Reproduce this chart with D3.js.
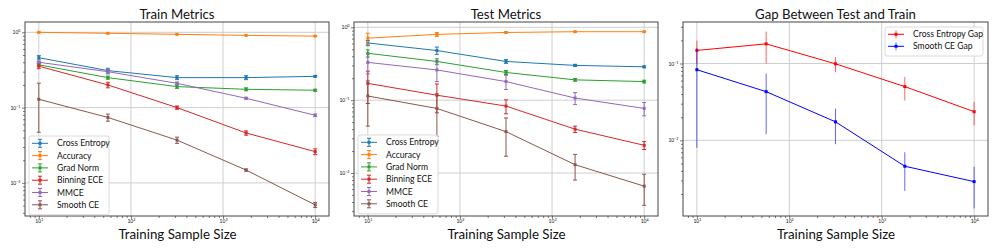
<!DOCTYPE html>
<html>
<head>
<meta charset="utf-8">
<script src="https://cdn.jsdelivr.net/npm/d3@7"></script>
<style>
  body { margin: 0; background: #fff; }
  svg { display: block; }
  text { font-family: Lato, "DejaVu Sans", sans-serif; fill: #111; }
</style>
</head>
<body>
<svg id="vis" width="997" height="249"></svg>
<script>
// training set sizes (log spaced)
const sampleSizes = [10, 56.2, 316.2, 1778, 10000]
const metricNames = ["Cross Entropy", "Accuracy", "Grad Norm", "Binning ECE", "MMCE", "Smooth CE"]
const metricColors = ["#1f77b4", "#ff7f0e", "#2ca02c", "#d62728", "#9467bd", "#8c564b"]

// train metrics (mean, std)
const trainCrossEntropy = [0.46, 0.31, 0.25, 0.25, 0.26]
const trainCrossEntropyErr = [0.03, 0.023, 0.015, 0.015, 0.005]
const trainAccuracy = [1.0, 0.97, 0.94, 0.91, 0.89]
const trainAccuracyErr = [0.01, 0.01, 0.008, 0.008, 0.005]
const trainGradNorm = [0.37, 0.25, 0.19, 0.175, 0.17]
const trainGradNormErr = [0.012, 0.012, 0.01, 0.008, 0.005]
const trainBinningECE = [0.355, 0.20, 0.10, 0.046, 0.026]
const trainBinningECEErr = [0.027, 0.017, 0.005, 0.003, 0.0023]
const trainMMCE = [0.40, 0.30, 0.21, 0.133, 0.079]
const trainMMCEErr = [0.01, 0.02, 0.008, 0.004, 0.003]
const trainSmoothCE = [0.129, 0.074, 0.037, 0.0148, 0.0051]
const trainSmoothCEErr = [0.082, 0.008, 0.0035, 0.0005, 0.0004]

// test metrics
const testCrossEntropy = [0.61, 0.48, 0.34, 0.30, 0.287]
const testCrossEntropyErr = [0.05, 0.055, 0.02, 0.01, 0.008]
const testAccuracy = [0.71, 0.80, 0.85, 0.87, 0.87]
const testAccuracyErr = [0.12, 0.05, 0.02, 0.01, 0.01]
const testGradNorm = [0.44, 0.34, 0.24, 0.19, 0.18]
const testGradNormErr = [0.05, 0.03, 0.015, 0.008, 0.008]
const testBinningECE = [0.17, 0.117, 0.083, 0.040, 0.024]
const testBinningECEErr = [0.08, 0.05, 0.018, 0.004, 0.003]
const testMMCE = [0.33, 0.26, 0.18, 0.107, 0.077]
const testMMCEErr = [0.1, 0.08, 0.04, 0.02, 0.016]
const testSmoothCE = [0.114, 0.077, 0.037, 0.013, 0.0066]
const testSmoothCEErr = [0.07, 0.045, 0.02, 0.005, 0.003]

// gap between test and train
const gapNames = ["Cross Entropy Gap", "Smooth CE Gap"]
const gapColors = ["#ff0000", "#0000ff"]
const gapCrossEntropy = [0.148, 0.18, 0.099, 0.050, 0.0236]
const gapCrossEntropyErr = [0.05, 0.08, 0.022, 0.017, 0.008]
const gapSmoothCE = [0.083, 0.043, 0.0174, 0.0046, 0.0029]
const gapSmoothCEErr = [0.075, 0.031, 0.0085, 0.0024, 0.0016]

const xTicks = [10, 100, 1000, 10000]

function makeSeries(names, colors, means, errs) {
  return names.map((name, i) => ({
    name: name,
    color: colors[i],
    points: sampleSizes.map((n, j) => ({ n: n, v: means[i][j], e: errs[i][j] }))
  }))
}

const trainSeries = makeSeries(metricNames, metricColors,
  [trainCrossEntropy, trainAccuracy, trainGradNorm, trainBinningECE, trainMMCE, trainSmoothCE],
  [trainCrossEntropyErr, trainAccuracyErr, trainGradNormErr, trainBinningECEErr, trainMMCEErr, trainSmoothCEErr])
const testSeries = makeSeries(metricNames, metricColors,
  [testCrossEntropy, testAccuracy, testGradNorm, testBinningECE, testMMCE, testSmoothCE],
  [testCrossEntropyErr, testAccuracyErr, testGradNormErr, testBinningECEErr, testMMCEErr, testSmoothCEErr])
const gapSeries = makeSeries(gapNames, gapColors,
  [gapCrossEntropy, gapSmoothCE], [gapCrossEntropyErr, gapSmoothCEErr])

const svg = d3.select("#vis")
const top_ = 22, bottom_ = 216

const panels = [
  { title: "Train Metrics", left: 25, right: 329, yLog: [-2.44, 0.137], series: trainSeries,
    caps: true, legend: { x: 29, y: 136, w: 80, row: 12.3 } },
  { title: "Test Metrics", left: 354, right: 658, yLog: [-2.59, 0.073], series: testSeries,
    caps: true, legend: { x: 358, y: 135, w: 80, row: 12.3 } },
  { title: "Gap Between Test and Train", left: 683, right: 988, yLog: [-2.985, -0.46], series: gapSeries,
    caps: false, legend: { x: 885, y: 27, w: 98, row: 12 } }
]

function superscriptLabel(sel) {
  sel.each(function (d) {
    const p = Math.round(Math.log10(d))
    const t = d3.select(this).text("10")
    t.append("tspan").attr("dy", -2).attr("font-size", 3.7).text(p < 0 ? "\u2212" + (-p) : p)
  })
}

function minorTicks(domain) {
  const out = []
  const lo = Math.floor(Math.log10(domain[0])), hi = Math.ceil(Math.log10(domain[1]))
  for (let k = lo; k <= hi; k++) {
    for (let m = 2; m <= 9; m++) {
      const v = m * Math.pow(10, k)
      if (v >= domain[0] && v <= domain[1]) out.push(v)
    }
  }
  return out
}

function majorTicks(domain) {
  const out = []
  for (let k = Math.ceil(Math.log10(domain[0])); k <= Math.floor(Math.log10(domain[1])); k++) out.push(Math.pow(10, k))
  return out
}

panels.forEach(p => {
  const g = svg.append("g")
  const x = d3.scaleLog().domain([Math.pow(10, 0.85), Math.pow(10, 4.15)]).range([p.left, p.right])
  const y = d3.scaleLog().domain([Math.pow(10, p.yLog[0]), Math.pow(10, p.yLog[1])]).range([bottom_, top_])
  const yMajor = majorTicks(y.domain())

  // grid
  g.append("g").selectAll("line").data(xTicks).join("line")
    .attr("x1", d => x(d)).attr("x2", d => x(d)).attr("y1", top_).attr("y2", bottom_)
    .attr("stroke", "#cfcfcf").attr("stroke-width", 1)
  g.append("g").selectAll("line").data(yMajor).join("line")
    .attr("y1", d => y(d)).attr("y2", d => y(d)).attr("x1", p.left).attr("x2", p.right)
    .attr("stroke", "#cfcfcf").attr("stroke-width", 1)

  const clipId = "clip" + p.left
  g.append("clipPath").attr("id", clipId).append("rect")
    .attr("x", p.left).attr("y", top_).attr("width", p.right - p.left).attr("height", bottom_ - top_)

  const plot = g.append("g").attr("clip-path", `url(#${clipId})`)
  const line = d3.line().x(d => x(d.n)).y(d => y(d.v))
  const yMin = y.domain()[0]

  p.series.forEach(s => {
    const sg = plot.append("g")
    // error bars
    const eb = sg.selectAll("g.eb").data(s.points).join("g")
      .attr("stroke", s.color).attr("stroke-width", 1)
      .attr("opacity", p.caps ? 1 : 0.6)
    eb.append("line")
      .attr("x1", d => x(d.n)).attr("x2", d => x(d.n))
      .attr("y1", d => y(d.v + d.e)).attr("y2", d => y(Math.max(d.v - d.e, yMin)))
    if (p.caps) {
      eb.append("line").attr("x1", d => x(d.n) - 2).attr("x2", d => x(d.n) + 2)
        .attr("y1", d => y(d.v + d.e)).attr("y2", d => y(d.v + d.e))
      eb.append("line").attr("x1", d => x(d.n) - 2).attr("x2", d => x(d.n) + 2)
        .attr("y1", d => y(Math.max(d.v - d.e, yMin))).attr("y2", d => y(Math.max(d.v - d.e, yMin)))
    }
    sg.append("path").datum(s.points).attr("d", line)
      .attr("fill", "none").attr("stroke", s.color).attr("stroke-width", 1)
    sg.selectAll("rect").data(s.points).join("rect")
      .attr("x", d => x(d.n) - 1.5).attr("y", d => y(d.v) - 1.5)
      .attr("width", 3).attr("height", 3).attr("fill", s.color)
  })

  // spines
  g.append("rect").attr("x", p.left).attr("y", top_)
    .attr("width", p.right - p.left).attr("height", bottom_ - top_)
    .attr("fill", "none").attr("stroke", "#444").attr("stroke-width", 1)

  // axes
  const xAxis = g.append("g").attr("transform", `translate(0,${bottom_})`)
    .call(d3.axisBottom(x).tickValues(xTicks).tickSize(3).tickPadding(0.5))
  const xMinor = g.append("g").attr("transform", `translate(0,${bottom_})`)
    .call(d3.axisBottom(x).tickValues(minorTicks(x.domain())).tickSize(2).tickFormat(""))
  const yAxis = g.append("g").attr("transform", `translate(${p.left},0)`)
    .call(d3.axisLeft(y).tickValues(yMajor).tickSize(3).tickPadding(1.5))
  const yMinor = g.append("g").attr("transform", `translate(${p.left},0)`)
    .call(d3.axisLeft(y).tickValues(minorTicks(y.domain())).tickSize(2).tickFormat(""))
  ;[xAxis, xMinor, yAxis, yMinor].forEach(a => {
    a.select(".domain").remove()
    a.selectAll(".tick line").attr("stroke", "#444").attr("stroke-width", 0.7)
  })
  xAxis.selectAll(".tick text").attr("font-size", 5).attr("fill", "#222").call(superscriptLabel)
  yAxis.selectAll(".tick text").attr("font-size", 5).attr("fill", "#222").call(superscriptLabel)

  // title and x label
  g.append("text").attr("x", (p.left + p.right) / 2).attr("y", 19)
    .attr("text-anchor", "middle").attr("font-size", 13.2).text(p.title)
  g.append("text").attr("x", (p.left + p.right) / 2 + 0.5).attr("y", 238.5)
    .attr("text-anchor", "middle").attr("font-size", 13.3).text("Training Sample Size")

  // legend
  const L = p.legend
  const lg = g.append("g").attr("transform", `translate(${L.x},${L.y})`)
  lg.append("rect").attr("width", L.w).attr("height", p.series.length * L.row + 5)
    .attr("rx", 2).attr("fill", "#fff").attr("fill-opacity", 0.85)
    .attr("stroke", "#d0d0d0").attr("stroke-width", 0.8)
  p.series.forEach((s, i) => {
    const cy = 7.3 + i * L.row
    const row = lg.append("g").attr("stroke", s.color).attr("stroke-width", 1)
    row.append("line").attr("x1", 3).attr("x2", 19).attr("y1", cy).attr("y2", cy)
    row.append("line").attr("x1", 11).attr("x2", 11).attr("y1", cy - 4).attr("y2", cy + 4)
      .attr("opacity", p.caps ? 1 : 0.6)
    if (p.caps) {
      row.append("line").attr("x1", 9).attr("x2", 13).attr("y1", cy - 4).attr("y2", cy - 4)
      row.append("line").attr("x1", 9).attr("x2", 13).attr("y1", cy + 4).attr("y2", cy + 4)
    }
    row.append("rect").attr("x", 9.5).attr("y", cy - 1.5).attr("width", 3).attr("height", 3)
      .attr("fill", s.color).attr("stroke", "none")
    lg.append("text").attr("x", 28).attr("y", cy + 3)
      .attr("font-size", 8.6).text(s.name)
  })
})
</script>
</body>
</html>
